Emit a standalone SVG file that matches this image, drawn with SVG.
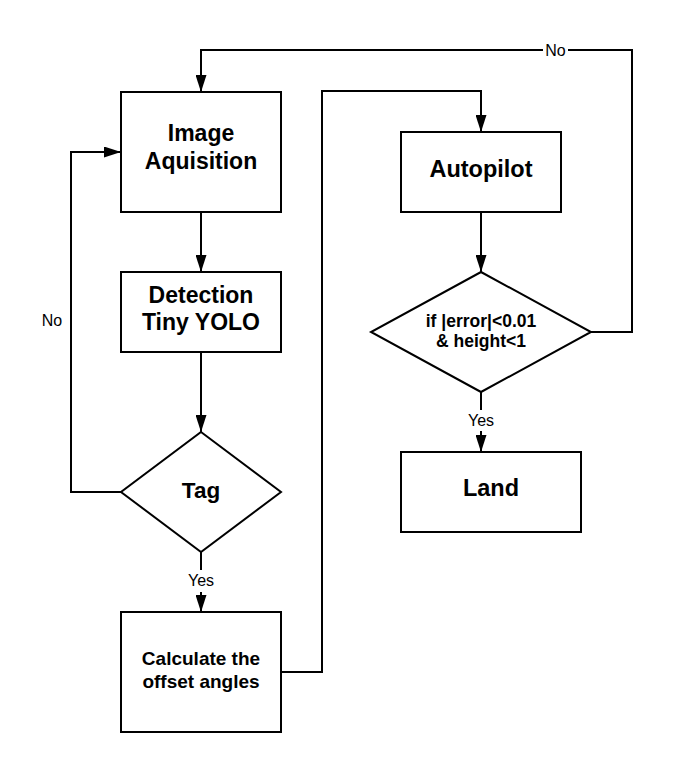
<svg xmlns="http://www.w3.org/2000/svg" width="674" height="772" viewBox="0 0 674 772">
<style>
.box{fill:#fff;stroke:#000;stroke-width:2}
.t{font-family:"Liberation Sans",Arial,sans-serif;font-weight:bold;text-anchor:middle;fill:#000}
.lbl{font-family:"Liberation Sans",Arial,sans-serif;font-size:16px;text-anchor:middle;fill:#000}
.edge{fill:none;stroke:#000;stroke-width:2}
</style>
<defs>
<marker id="arr" markerUnits="userSpaceOnUse" markerWidth="17" markerHeight="11" refX="17" refY="5.5" orient="auto">
<path d="M0,0 L17,5.5 L0,11 z" fill="#000"/>
</marker>
</defs>
<rect width="674" height="772" fill="#fff"/>
<g id="connectors">
<path class="edge" d="M201,212 V272" marker-end="url(#arr)"/>
<path class="edge" d="M201,352 V432" marker-end="url(#arr)"/>
<path class="edge" d="M201,552 V612" marker-end="url(#arr)"/>
<path class="edge" d="M121,492 H71 V152 H121" marker-end="url(#arr)"/>
<path class="edge" d="M281,672 H322 V91 H481 V132" marker-end="url(#arr)"/>
<path class="edge" d="M481,212 V272" marker-end="url(#arr)"/>
<path class="edge" d="M591,332 H632 V50 H201 V92" marker-end="url(#arr)"/>
<path class="edge" d="M481,392 V452" marker-end="url(#arr)"/>
<rect x="186" y="570" width="30" height="22" fill="#fff"/>
<text class="lbl" x="201" y="585.5">Yes</text>
<rect x="466" y="410" width="30" height="21" fill="#fff"/>
<text class="lbl" x="481" y="426">Yes</text>
<rect x="543" y="42" width="25" height="18" fill="#fff"/>
<text class="lbl" x="555.5" y="56">No</text>
<text class="lbl" x="52" y="325.5">No</text>
</g>
<g id="image-acquisition">
<rect class="box" x="121" y="92" width="160" height="120"/>
<text class="t" font-size="23" x="201" y="141">Image</text>
<text class="t" font-size="23" x="201" y="169">Aquisition</text>
</g>
<g id="detection">
<rect class="box" x="121" y="272" width="160" height="80"/>
<text class="t" font-size="23" x="201" y="302.5">Detection</text>
<text class="t" font-size="23" x="201" y="330">Tiny YOLO</text>
</g>
<g id="tag">
<polygon class="box" points="201,432 281,492 201,552 121,492"/>
<text class="t" font-size="22.5" x="201" y="497.5">Tag</text>
</g>
<g id="calculate">
<rect class="box" x="121" y="612" width="160" height="120"/>
<text class="t" font-size="19" x="201" y="665">Calculate the</text>
<text class="t" font-size="19" x="201" y="688">offset angles</text>
</g>
<g id="autopilot">
<rect class="box" x="401" y="132" width="160" height="80"/>
<text class="t" font-size="23.5" x="481" y="176.5">Autopilot</text>
</g>
<g id="decision">
<polygon class="box" points="481,272 591,332 481,392 371,332"/>
<text class="t" font-size="17.5" x="481" y="326.5">if |error|&lt;0.01</text>
<text class="t" font-size="17.5" x="481" y="346.5">&amp; height&lt;1</text>
</g>
<g id="land">
<rect class="box" x="401" y="452" width="180" height="80"/>
<text class="t" font-size="23.5" x="491" y="496">Land</text>
</g>
</svg>
